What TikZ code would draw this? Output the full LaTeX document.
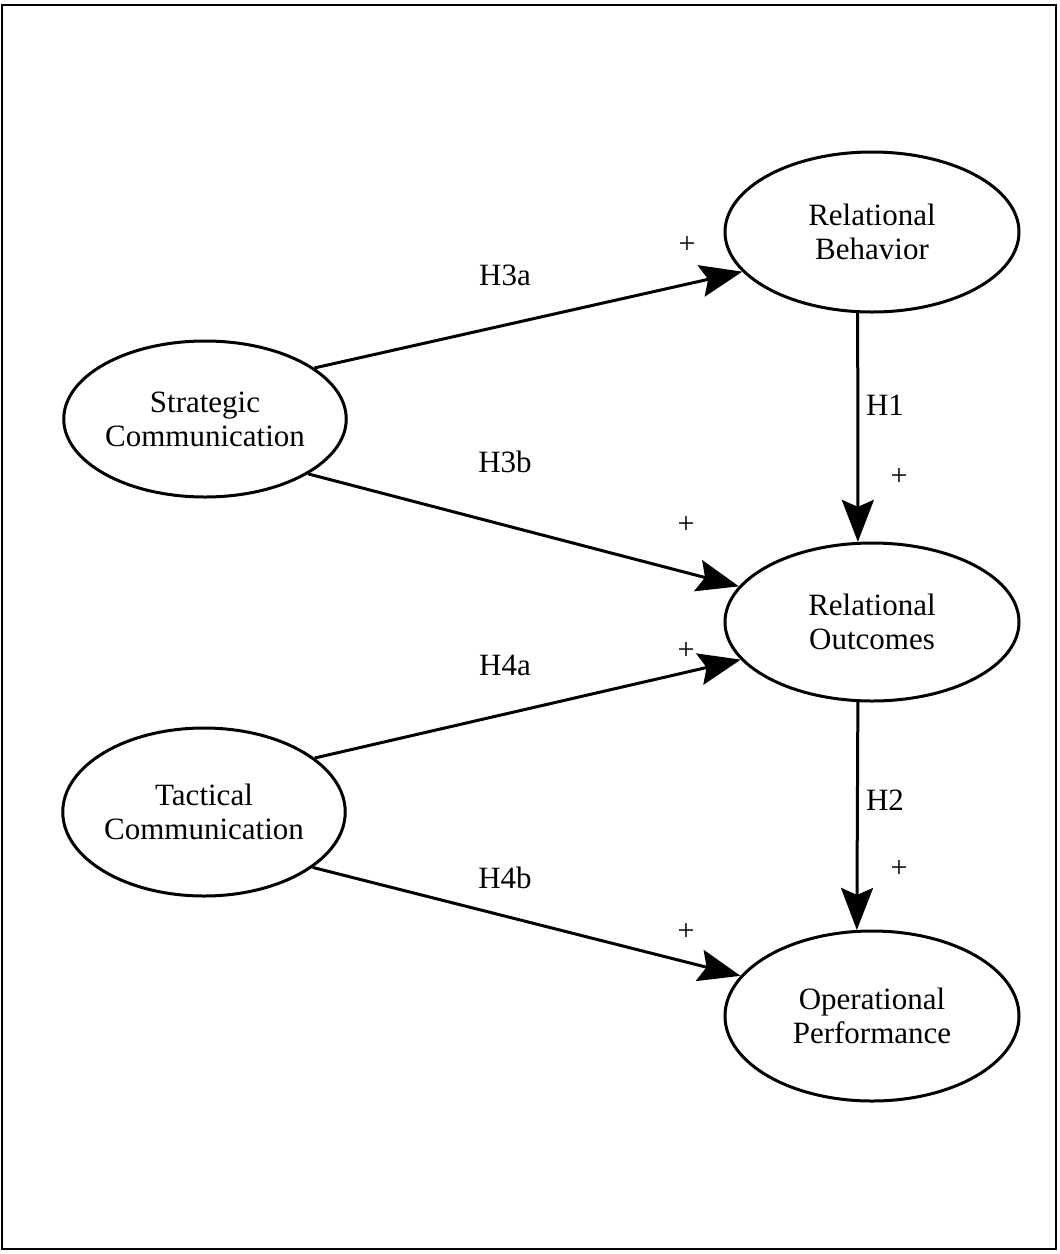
\documentclass[tikz,border=0pt]{standalone}
\usepackage{fontspec}
\setmainfont{Liberation Serif}
\usetikzlibrary{arrows.meta,shapes.geometric}

\tikzset{
  construct/.style={draw, ellipse, line width=3pt, inner sep=0pt, align=center,
    font=\fontsize{31}{34}\selectfont},
  hyp/.style={font=\fontsize{31}{34}\selectfont, inner sep=0pt},
  sign/.style={font=\fontsize{30}{34}\selectfont, inner sep=0pt},
  path/.style={line width=3pt, -{Stealth[length=42pt, width=32pt, inset=7pt]}},
  frame/.style={line width=2pt}
}

\begin{document}
\begin{tikzpicture}[x=1pt, y=-1pt]
  \useasboundingbox (0,0) rectangle (1060,1254);
  \draw[frame] (2,5) rectangle (1056,1249);

  % constructs
  \node[construct, minimum width=266pt, minimum height=156pt] (strat) at (205,419)
    {Strategic\\Communication};
  \node[construct, minimum width=266pt, minimum height=168pt] (tact) at (204,812)
    {Tactical\\Communication};
  \node[construct, minimum width=294pt, minimum height=160pt] (beh) at (872,232)
    {Relational\\Behavior};
  \node[construct, minimum width=294pt, minimum height=158pt] (out) at (872,622)
    {Relational\\Outcomes};
  \node[construct, minimum width=294pt, minimum height=170pt] (oper) at (872,1016)
    {Operational\\Performance};

  % hypothesised paths
  \draw[path] (strat.25) -- (beh.197);
  \draw[path] (strat.332) -- (out.165);
  \draw[path] (tact.26) -- (out.196);
  \draw[path] (tact.333) -- (oper.163);
  \draw[path] (beh.260) -- (out.100);
  \draw[path] (out.260) -- (oper.100);

  % hypothesis labels
  \node[hyp] (h3a) at (505,275) {H3a};
  \node[hyp] (h3b) at (505,462) {H3b};
  \node[hyp] (h4a) at (505,665) {H4a};
  \node[hyp] (h4b) at (505,878) {H4b};
  \node[hyp] (h1) at (885,405) {H1};
  \node[hyp] (h2) at (885,800) {H2};

  % signs
  \node[sign] (s3a) at (687,245) {+};
  \node[sign] (s3b) at (686,525) {+};
  \node[sign] (s4a) at (686,651) {+};
  \node[sign] (s4b) at (686,932) {+};
  \node[sign] (s1) at (899,477) {+};
  \node[sign] (s2) at (899,869) {+};
\end{tikzpicture}
\end{document}
